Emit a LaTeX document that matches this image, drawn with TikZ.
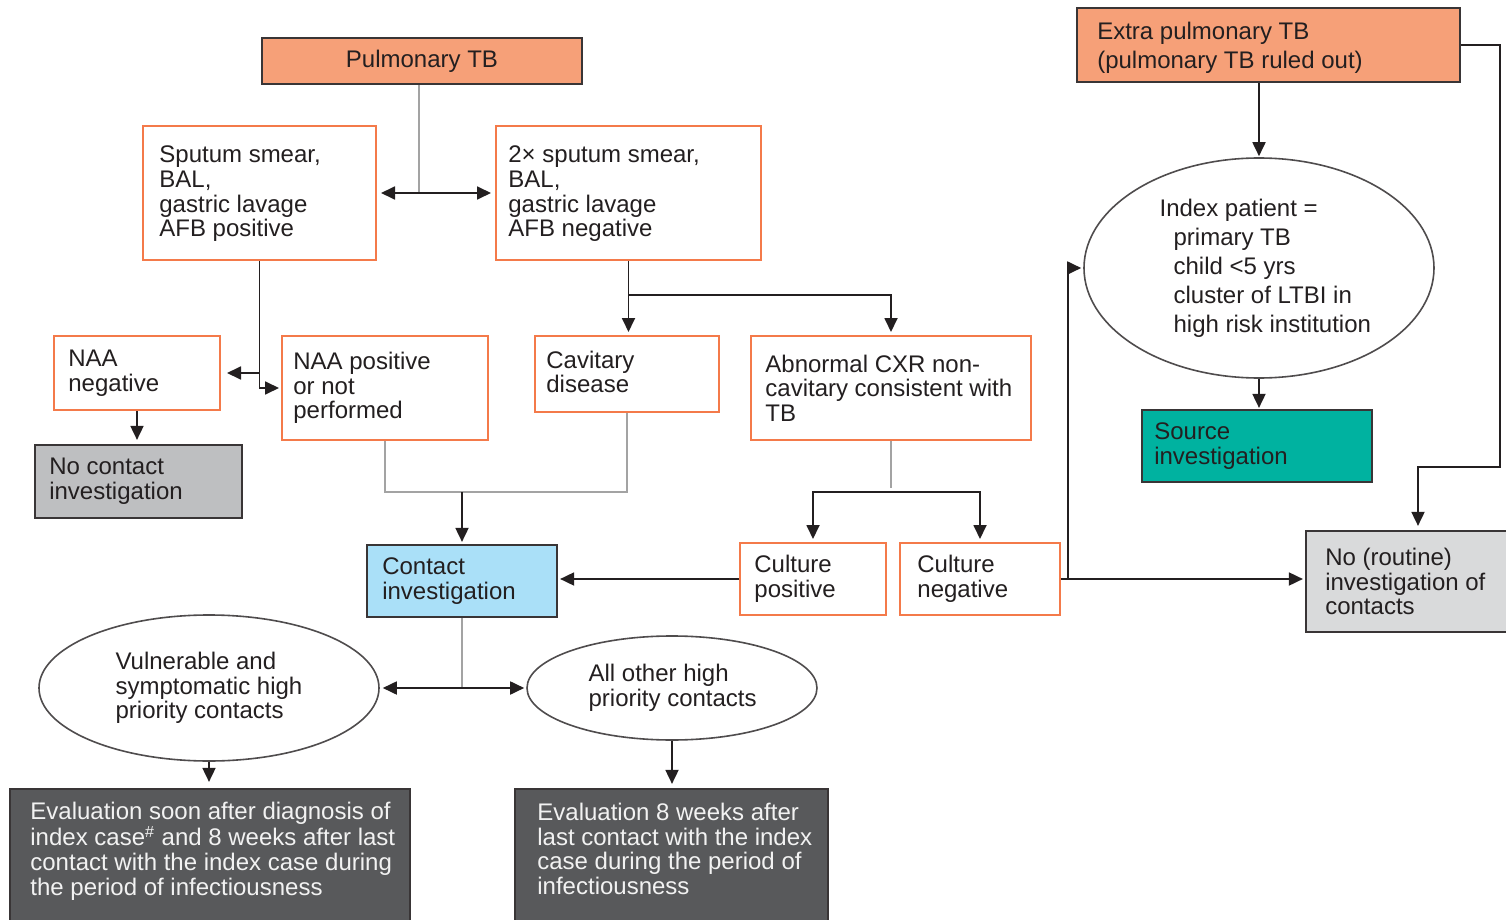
\documentclass[tikz,border=0pt]{standalone}
\usepackage{fontspec}
\setmainfont{Liberation Sans}
\usetikzlibrary{arrows.meta,fit,shapes.geometric,calc}
\definecolor{salmon}{HTML}{F6A078}
\definecolor{orng}{HTML}{F47A4A}
\definecolor{lblue}{HTML}{AAE0F8}
\definecolor{teal2}{HTML}{00B2A0}
\definecolor{gbox}{HTML}{BEBFC1}
\definecolor{lgbox}{HTML}{D9DADB}
\definecolor{dbox}{HTML}{58595B}
\definecolor{glinec}{HTML}{A3A3A3}
\definecolor{ink}{HTML}{231F20}
\begin{document}
\begin{tikzpicture}[x=0.5pt,y=-0.5pt,
  every node/.style={inner sep=0pt},
  obox/.style={draw=orng, line width=1pt, fill=white},
  fbox/.style={draw=ink!90, line width=1.1pt},
  ell/.style={ellipse, draw=ink!80, line width=0.8pt, fill=white},
  txt/.style={align=left, text=ink, font=\fontsize{12pt}{12.3pt}\selectfont, anchor=west},
  wtxt/.style={txt, text=white!95!black},
  arr/.style={draw=ink, line width=0.9pt, -{Triangle[length=7pt,width=6.5pt]}},
  barr/.style={draw=ink, line width=0.9pt, {Triangle[length=7pt,width=6.5pt]}-{Triangle[length=7pt,width=6.5pt]}},
  gl/.style={draw=glinec, line width=1pt},
]
\useasboundingbox (0,0) rectangle (1506,920);
\clip (0,0) rectangle (1506,920);
\fill[white] (0,0) rectangle (1506,920);

% boxes
\node[fbox, fill=salmon, fit={(262,38) (582,84)}] (ptb) {};
\node[txt, anchor=center] (ptb-t) at (ptb.center) {Pulmonary TB};
\node[obox, fit={(143,126) (376,260)}] (spos) {};
\node[txt] (spos-t) at ([xshift=8.5pt,yshift=-0.5pt]spos.west) {Sputum smear,\\BAL,\\gastric lavage\\AFB positive};
\node[obox, fit={(496,126) (761,260)}] (sneg) {};
\node[txt] (sneg-t) at ([xshift=6.5pt,yshift=-0.5pt]sneg.west) {2× sputum smear,\\BAL,\\gastric lavage\\AFB negative};
\node[obox, fit={(54,336) (220,410)}] (naaneg) {};
\node[txt] (naaneg-t) at ([xshift=7.5pt]naaneg.west) {NAA\\negative};
\node[obox, fit={(282,336) (488,440)}] (naapos) {};
\node[txt] (naapos-t) at ([xshift=6pt]naapos.west) {NAA positive\\or not\\performed};
\node[obox, fit={(535,336) (719,412)}] (cav) {};
\node[txt] (cav-t) at ([xshift=6pt,yshift=1pt]cav.west) {Cavitary\\disease};
\node[obox, fit={(751,336) (1031,440)}] (cxr) {};
\node[txt] (cxr-t) at ([xshift=7.5pt]cxr.west) {Abnormal CXR non-\\cavitary consistent with\\TB};
\node[fbox, fill=gbox, fit={(35,445) (242,518)}] (nocon) {};
\node[txt] (nocon-t) at ([xshift=7.5pt]nocon.west) {No contact\\investigation};
\node[fbox, fill=lblue, fit={(367,545) (557,617)}] (contact) {};
\node[txt] (contact-t) at ([xshift=8pt]contact.west) {Contact\\investigation};
\node[obox, fit={(740,543) (886,615)}] (culpos) {};
\node[txt] (culpos-t) at ([xshift=7.5pt]culpos.west) {Culture\\positive};
\node[obox, fit={(900,543) (1060,615)}] (culneg) {};
\node[txt] (culneg-t) at ([xshift=9pt]culneg.west) {Culture\\negative};
\node[fbox, fill=salmon, fit={(1077,8) (1460,82)}] (extra) {};
\node[txt, font=\fontsize{12pt}{14.5pt}\selectfont] (extra-t) at ([xshift=10.5pt,yshift=-1.5pt]extra.west) {Extra pulmonary TB\\(pulmonary TB ruled out)};
\node[ell, minimum width=175pt, minimum height=110pt] (index) at (1259,268) {};
\node[txt, font=\fontsize{12pt}{14.5pt}\selectfont] (index-t) at ([xshift=38pt]index.west) {Index patient =\\\hspace*{7pt}primary TB\\\hspace*{7pt}child <5 yrs\\\hspace*{7pt}cluster of LTBI in\\\hspace*{7pt}high risk institution};
\node[fbox, fill=teal2, fit={(1142,410) (1372,482)}] (source) {};
\node[txt] (source-t) at ([xshift=6.5pt]source.west) {Source\\investigation};
\node[fbox, fill=lgbox, fit={(1306,531) (1530,632)}] (norout) {};
\node[txt] (norout-t) at ([xshift=10pt]norout.west) {No (routine)\\investigation of\\contacts};
\node[ell, minimum width=170pt, minimum height=73pt] (vuln) at (209,688) {};
\node[txt] (vuln-t) at ([xshift=38.5pt]vuln.west) {Vulnerable and\\symptomatic high\\priority contacts};
\node[ell, minimum width=145pt, minimum height=52pt] (other) at (672,688) {};
\node[txt] (other-t) at ([xshift=31pt]other.west) {All other high\\priority contacts};
\node[fbox, fill=dbox, fit={(10,789) (410,940)}] (eval1) {};
\node[wtxt] (eval1-t) at (30,851) {Evaluation soon after diagnosis of\\index case\textsuperscript{\#} and 8 weeks after last\\contact with the index case during\\the period of infectiousness};
\node[fbox, fill=dbox, fit={(515,789) (828,940)}] (eval2) {};
\node[wtxt] (eval2-t) at (537,849) {Evaluation 8 weeks after\\last contact with the index\\case during the period of\\infectiousness};

% connectors
\coordinate (j0) at ([xshift=-1.5pt]ptb.south |- spos.east);
\draw[gl] ([xshift=-1.5pt]ptb.south) -- (j0);
\draw[barr, shorten <=2pt, shorten >=2pt] (spos.east) -- (sneg.west);

\coordinate (j1) at (spos.south |- naaneg.east);
\draw[arr, shorten >=3pt] (spos.south) -- (j1) -- (naaneg.east);
\draw[arr, shorten >=1pt] (j1) -- (spos.south |- naapos.west) -- (naapos.west);
\draw[arr, shorten >=2pt] (naaneg.south) -- (naaneg.south |- nocon.north);

\coordinate (j2) at ([yshift=-17pt]sneg.south);
\draw[arr, shorten >=1.5pt] (sneg.south) -- (sneg.south |- cav.north);
\draw[arr, shorten >=1.5pt] (j2) -| (cxr.north);

\coordinate (j3) at (contact.north |- 0,492);
\draw[gl] (naapos.south) |- (j3) -| (cav.south);
\draw[arr, shorten >=1pt] (j3) -- (contact.north);

\coordinate (j4) at (cxr.south |- 0,492);
\draw[gl] (cxr.south) -- ([yshift=2pt]j4);
\draw[arr, shorten >=1.5pt] (j4) -| (culpos.north);
\draw[arr, shorten >=1.5pt] (j4) -| (culneg.north);

\draw[arr, shorten >=1pt] (culpos.west) -- (culpos.west -| contact.east);
\coordinate (j5) at ([xshift=3.5pt]culneg.east);
\draw[arr, shorten >=1pt] (culneg.east) -- (culneg.east -| norout.west);
\draw[arr, shorten >=1pt] (j5) |- (index.west);

\draw[arr, shorten >=0.5pt] (index.north |- extra.south) -- (index.north);
\draw[arr, shorten >=0.5pt] (index.south) -- (index.south |- source.north);
\coordinate (r1) at (1500,467);
\draw[arr, shorten >=2pt] (extra.east) -| (r1) -| (norout.north);

\draw[gl] (contact.south) -- (contact.south |- vuln.east);
\draw[barr, shorten <=1.5pt, shorten >=1pt] (vuln.east) -- (other.west);
\draw[arr, shorten >=3pt] (vuln.south) -- (vuln.south |- eval1.north);
\draw[arr, shorten >=2pt] (other.south) -- (other.south |- eval2.north);
\end{tikzpicture}
\end{document}
